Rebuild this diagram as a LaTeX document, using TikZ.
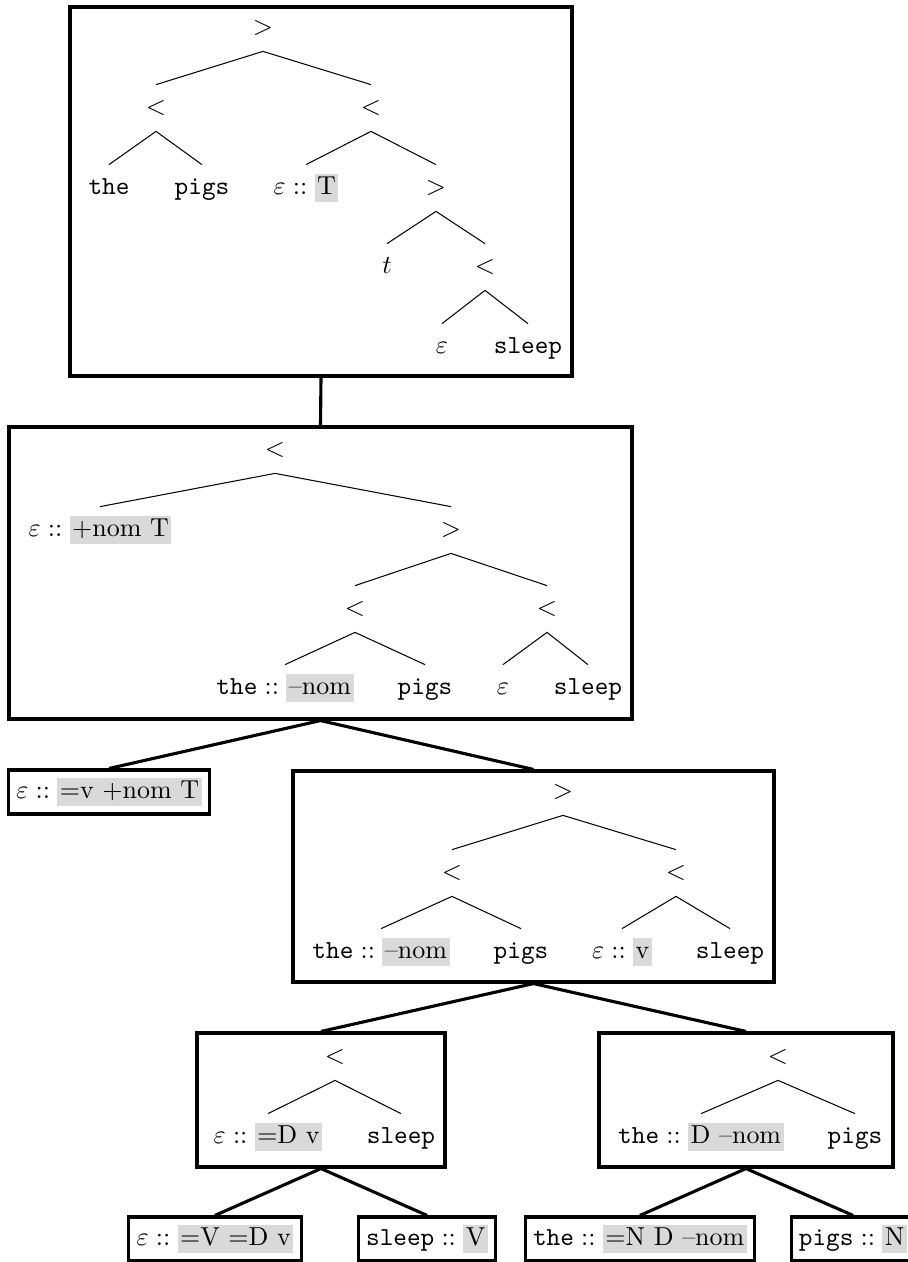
\documentclass[tikz,border=0pt]{standalone}
\usetikzlibrary{fit}
\definecolor{FeatGray}{HTML}{D9D9D9}
\tikzset{
  lab/.style={inner xsep=1pt, inner ysep=4.3pt, text height=7pt, text depth=2pt},
  branch/.style={draw=black, thin},
  treebox/.style={draw=black, very thick, inner sep=0pt},
  lexbox/.style={draw=black, very thick, inner xsep=3pt, inner ysep=3.1pt},
  derive/.style={draw=black, very thick}
}
\newcommand{\feat}[1]{{\setlength{\fboxsep}{1pt}\colorbox{FeatGray}{\vphantom{Tp}#1}}}
\newcommand{\lexitem}[2]{$#1::\feat{#2}$}

\begin{document}
\begin{tikzpicture}[x=0.385pt, y=-0.385pt]
\useasboundingbox (0,0) rectangle (908,1262);
\clip (0,0) rectangle (908,1262);

% derived tree
\node[treebox, fit={(70,7) (572,376)}] (box1) {};
\node[lab] (b1top) at (263,28) {$>$};
\node[lab] (b1l) at (156,108) {$<$};
\node[lab] (b1r) at (371,108) {$<$};
\node[lab] (b1the) at (109,188) {\texttt{the}};
\node[lab] (b1pigs) at (202,188) {\texttt{pigs}};
\node[lab] (b1lex) at (306,188) {\lexitem{\varepsilon}{T}};
\node[lab] (b1m) at (436,188) {$>$};
\node[lab] (b1t) at (387,267) {$t$};
\node[lab] (b1n) at (485,267) {$<$};
\node[lab] (b1eps) at (442,347) {$\varepsilon$};
\node[lab] (b1sleep) at (528,347) {\texttt{sleep}};
\draw[branch] (b1l.north) -- (b1top.south) -- (b1r.north);
\draw[branch] (b1the.north) -- (b1l.south) -- (b1pigs.north);
\draw[branch] (b1lex.north) -- (b1r.south) -- (b1m.north);
\draw[branch] (b1t.north) -- (b1m.south) -- (b1n.north);
\draw[branch] (b1eps.north) -- (b1n.south) -- (b1sleep.north);

% merge with +nom T head
\node[treebox, fit={(9,427) (632,719)}] (box2) {};
\node[lab] (b2top) at (275,450) {$<$};
\node[lab] (b2lex) at (100,530) {\lexitem{\varepsilon}{+nom T}};
\node[lab] (b2m) at (451,530) {$>$};
\node[lab] (b2l) at (355,609) {$<$};
\node[lab] (b2r) at (547,609) {$<$};
\node[lab] (b2the) at (285,688) {\lexitem{\texttt{the}}{--nom}};
\node[lab] (b2pigs) at (425,688) {\texttt{pigs}};
\node[lab] (b2eps) at (503,688) {$\varepsilon$};
\node[lab] (b2sleep) at (588,688) {\texttt{sleep}};
\draw[branch] (b2lex.north) -- (b2top.south) -- (b2m.north);
\draw[branch] (b2l.north) -- (b2m.south) -- (b2r.north);
\draw[branch] (b2the.north) -- (b2l.south) -- (b2pigs.north);
\draw[branch] (b2eps.north) -- (b2r.south) -- (b2sleep.north);

\node[lexbox] (lexT) at (109,792) {\lexitem{\varepsilon}{=v +nom T}};

% vP
\node[treebox, fit={(293,771) (774,982)}] (box4) {};
\node[lab] (b4top) at (563,792) {$>$};
\node[lab] (b4l) at (452,873) {$<$};
\node[lab] (b4r) at (676,873) {$<$};
\node[lab] (b4the) at (381,952) {\lexitem{\texttt{the}}{--nom}};
\node[lab] (b4pigs) at (521,952) {\texttt{pigs}};
\node[lab] (b4v) at (622,952) {\lexitem{\varepsilon}{v}};
\node[lab] (b4sleep) at (730,952) {\texttt{sleep}};
\draw[branch] (b4l.north) -- (b4top.south) -- (b4r.north);
\draw[branch] (b4the.north) -- (b4l.south) -- (b4pigs.north);
\draw[branch] (b4v.north) -- (b4r.south) -- (b4sleep.north);

% v' and DP
\node[treebox, fit={(197,1033) (445,1167)}] (box5) {};
\node[lab] (b5top) at (335,1057) {$<$};
\node[lab] (b5v) at (268,1137) {\lexitem{\varepsilon}{=D v}};
\node[lab] (b5sleep) at (401,1137) {\texttt{sleep}};
\draw[branch] (b5v.north) -- (b5top.south) -- (b5sleep.north);

\node[treebox, fit={(599,1033) (893,1167)}] (box6) {};
\node[lab] (b6top) at (778,1057) {$<$};
\node[lab] (b6the) at (701,1137) {\lexitem{\texttt{the}}{D --nom}};
\node[lab] (b6pigs) at (855,1137) {\texttt{pigs}};
\draw[branch] (b6the.north) -- (b6top.south) -- (b6pigs.north);

% lexicon
\node[lexbox] (lexv) at (215,1239) {\lexitem{\varepsilon}{=V =D v}};
\node[lexbox] (lexsleep) at (427,1239) {\lexitem{\texttt{sleep}}{V}};
\node[lexbox] (lexthe) at (640,1239) {\lexitem{\texttt{the}}{=N D --nom}};
\node[lexbox] (lexpigs) at (853,1239) {\lexitem{\texttt{pigs}}{N}};

\draw[derive] (box1.south) -- (box2.north);
\draw[derive] (lexT.north) -- (box2.south) -- (box4.north);
\draw[derive] (box5.north) -- (box4.south) -- (box6.north);
\draw[derive] (lexv.north) -- (box5.south) -- (lexsleep.north);
\draw[derive] (lexthe.north) -- (box6.south) -- (lexpigs.north);
\end{tikzpicture}
\end{document}
